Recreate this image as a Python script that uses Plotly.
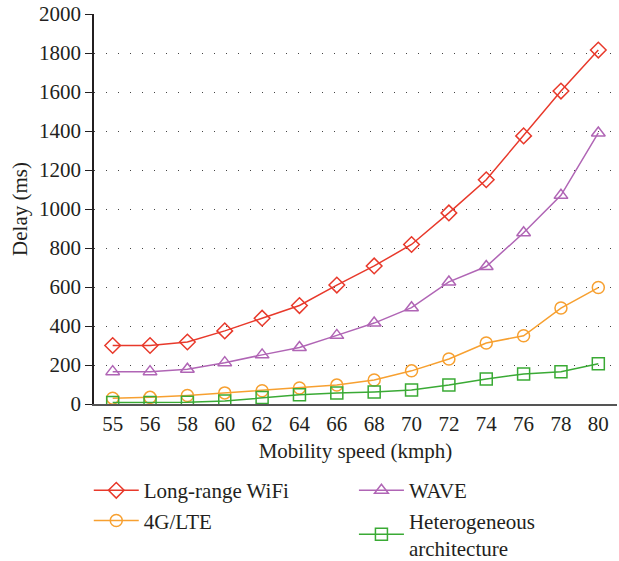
import plotly.graph_objects as go

speeds = ["55", "56", "58", "60", "62", "64", "66", "68", "70", "72", "74", "76", "78", "80"]

wifi = [300, 300, 318, 375, 440, 505, 610, 708, 818, 980, 1150, 1375, 1605, 1815]
wave = [166, 166, 178, 212, 252, 290, 352, 415, 494, 626, 705, 878, 1070, 1390]
lte = [30, 34, 44, 57, 68, 82, 97, 123, 170, 231, 313, 350, 492, 597]
hetero = [8, 8, 9, 15, 33, 48, 56, 62, 72, 97, 128, 154, 166, 206]

# name, values, colour, marker, legend column
series = [
    ("Long-range WiFi", wifi, "#e8392b", "diamond-open", "legend"),
    ("4G/LTE", lte, "#f7a030", "circle-open", "legend"),
    ("WAVE", wave, "#b065b5", "triangle-up-open", "legend2"),
    ("Heterogeneous<br>architecture", hetero, "#3aaa35", "square-open", "legend2"),
]

fig = go.Figure()
for name, vals, color, sym, leg in series:
    fig.add_trace(go.Scatter(
        x=speeds, y=vals, name=name, mode="lines+markers", legend=leg,
        line=dict(color=color, width=1.5),
        marker=dict(symbol=sym, size=12, color=color, line=dict(width=1.5, color=color)),
    ))

font = "Liberation Serif, DejaVu Serif, serif"
leg_style = dict(
    yref="container", y=0.162, yanchor="top", xanchor="left",
    font=dict(size=21), traceorder="normal", itemwidth=45,
    tracegroupgap=0, bgcolor="rgba(0,0,0,0)",
)
fig.update_layout(
    width=619, height=561,
    margin=dict(l=94, r=2, t=14, b=157, autoexpand=False),
    plot_bgcolor="white", paper_bgcolor="white",
    font=dict(family=font, size=21, color="#231f20"),
    legend=dict(x=-0.01, **leg_style),
    legend2=dict(x=0.497, **leg_style),
)
fig.update_xaxes(
    type="category", range=[-0.5, 13.5],
    showline=True, linecolor="#555555", linewidth=2,
    showgrid=False, ticks="",
    tickfont=dict(size=21),
    title=dict(text="Mobility speed (kmph)", font=dict(size=21), standoff=8),
)
fig.update_yaxes(
    range=[0, 2000], dtick=200,
    showline=True, linecolor="#231f20", linewidth=1.5,
    ticks="outside", ticklen=7, tickcolor="#231f20", tickwidth=1.2,
    showgrid=True, gridcolor="#444444", gridwidth=1.3, griddash="1px,11px",
    zeroline=False, tickfont=dict(size=21),
    title=dict(text="Delay (ms)", font=dict(size=21), standoff=6),
)

# drop the default 8px page margin so the figure sits at the window's corner
fig.write_html("out.html", config={"displayModeBar": False},
               post_script="document.body.style.margin='0';")
